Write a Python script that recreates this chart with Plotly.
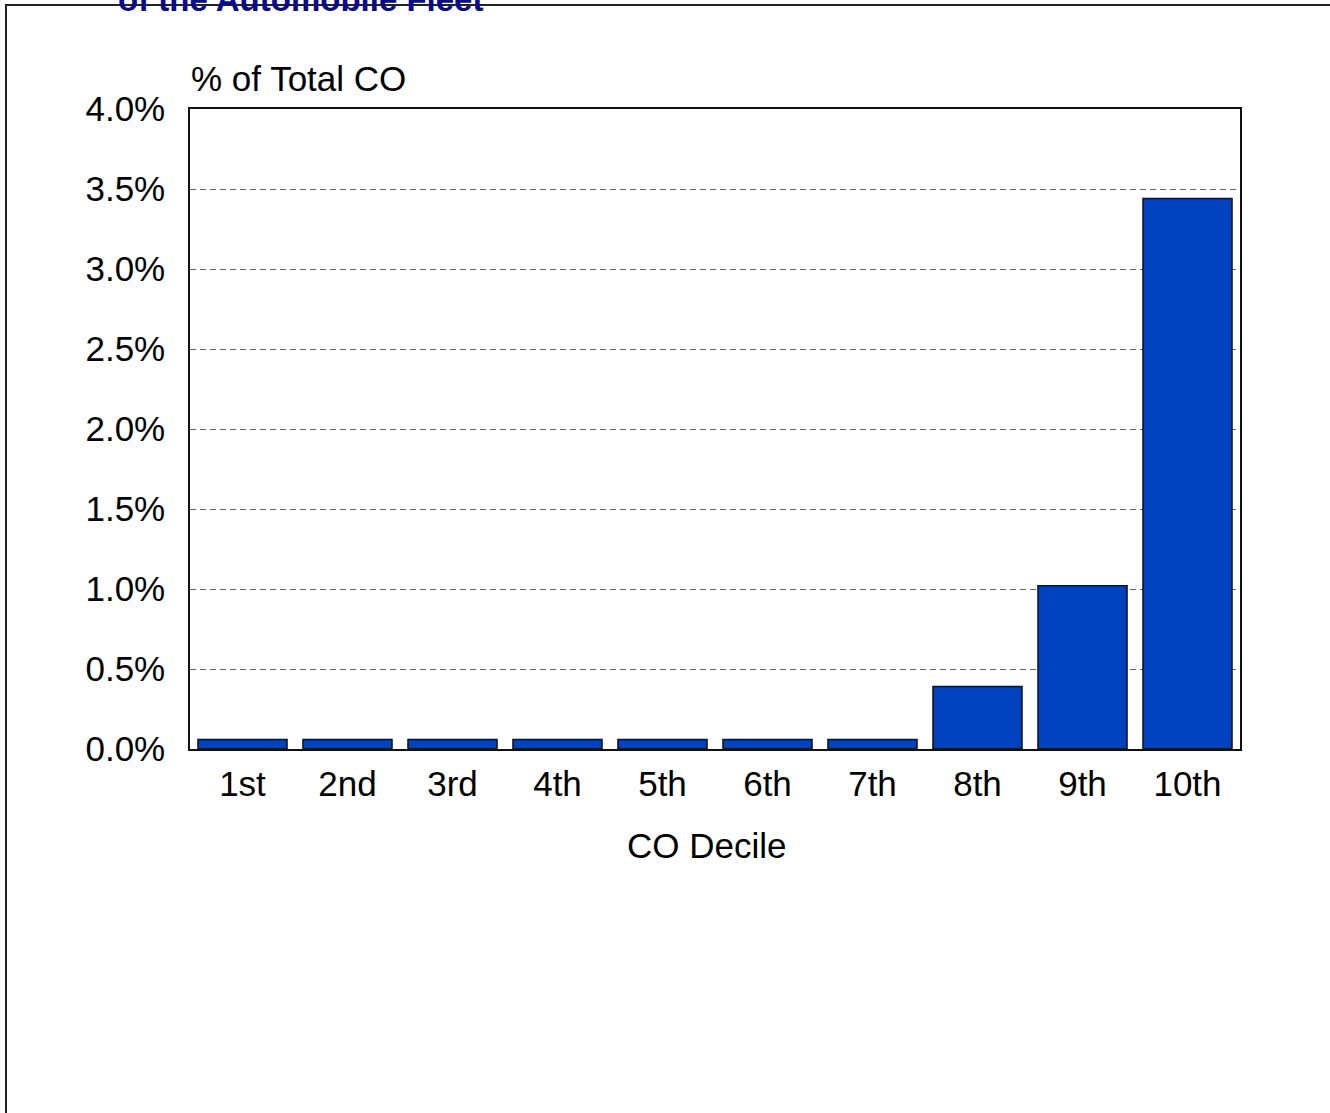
import plotly.graph_objects as go

# Share of total CO emissions by CO decile of the fleet
deciles = ["1st", "2nd", "3rd", "4th", "5th", "6th", "7th", "8th", "9th", "10th"]
pct_total_co = [0.06, 0.06, 0.06, 0.06, 0.06, 0.06, 0.06, 0.39, 1.02, 3.44]
y_ticks = [0.0, 0.5, 1.0, 1.5, 2.0, 2.5, 3.0, 3.5, 4.0]
y_tick_text = [f"{v:.1f}%" for v in y_ticks]

W, H = 1330, 1113
L, R, T, B = 190, 90, 109, 364
pw, ph = W - L - R, H - T - B


def px_x(px):
    return (px - L) / pw


def px_y(py):
    return (H - B - py) / ph


FONT = "Arial, Liberation Sans, sans-serif"

fig = go.Figure(
    go.Bar(
        x=deciles,
        y=pct_total_co,
        marker=dict(color="#0041C0", line=dict(color="#111111", width=1.5)),
        hoverinfo="x+y",
    )
)

fig.update_layout(
    width=W,
    height=H,
    margin=dict(l=L, r=R, t=T, b=B, pad=0),
    paper_bgcolor="white",
    plot_bgcolor="white",
    font=dict(family=FONT, size=35, color="black"),
    bargap=0.152,
    showlegend=False,
)

fig.update_yaxes(
    range=[0, 4.0],
    tickmode="array",
    tickvals=y_ticks,
    ticktext=y_tick_text,
    ticks="",
    ticklabelstandoff=16,
    showgrid=True,
    gridcolor="#666666",
    gridwidth=1,
    griddash="6px,4px",
    zeroline=False,
    showline=True,
    linecolor="#111111",
    linewidth=1.5,
    mirror=True,
)
fig.update_xaxes(
    ticks="",
    ticklabelstandoff=3,
    showgrid=False,
    showline=True,
    linecolor="#111111",
    linewidth=1.5,
    mirror=True,
)

# Outer frame around the slide area
fig.add_shape(
    type="rect",
    xref="paper", yref="paper",
    x0=px_x(6), x1=px_x(1345),
    y0=px_y(1125), y1=px_y(5),
    line=dict(color="#222222", width=2),
    fillcolor="rgba(0,0,0,0)",
    layer="below",
)

# Second line of the slide heading
fig.add_annotation(
    text="<b>of the Automobile Fleet</b>",
    xref="paper", yref="paper",
    x=px_x(116), y=px_y(0),
    xanchor="left", yanchor="middle",
    showarrow=False,
    font=dict(family=FONT, size=33, color="#0A0A8C"),
)

# Y-axis caption
fig.add_annotation(
    text="% of Total CO",
    xref="paper", yref="paper",
    x=px_x(189), y=px_y(78),
    xanchor="left", yanchor="middle",
    showarrow=False,
    font=dict(family=FONT, size=35, color="black"),
)

# X-axis caption
fig.add_annotation(
    text="CO Decile",
    xref="paper", yref="paper",
    x=px_x(706), y=px_y(845),
    xanchor="center", yanchor="middle",
    showarrow=False,
    font=dict(family=FONT, size=35, color="black"),
)

fig.write_html("out.html")
